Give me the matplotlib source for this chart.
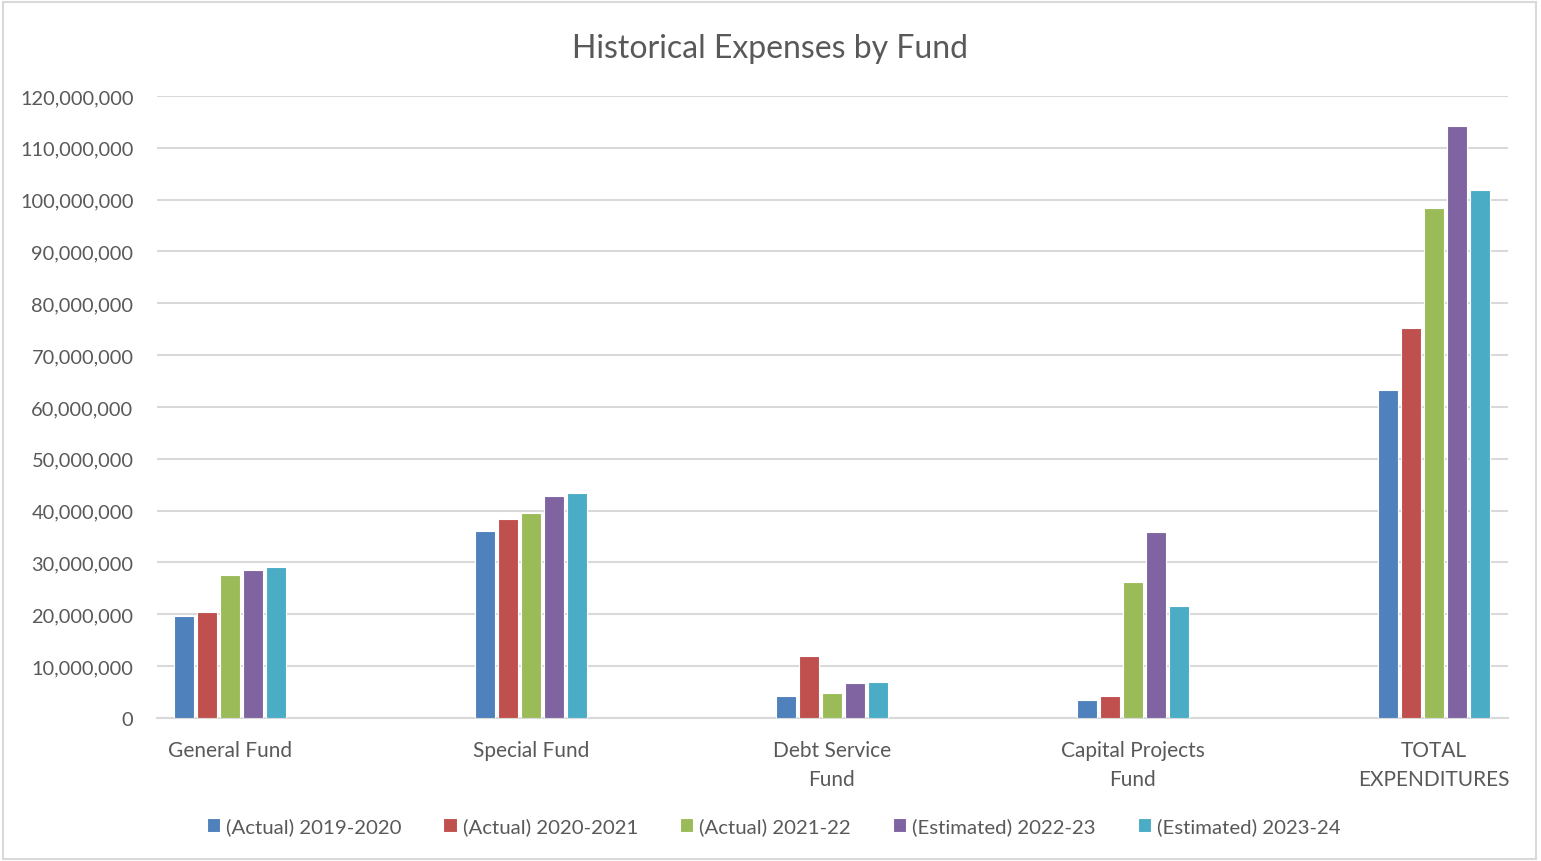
import matplotlib
matplotlib.use("Agg")
import matplotlib.pyplot as plt
from matplotlib.ticker import FuncFormatter
import numpy as np

# values in millions
funds = ["General Fund", "Special Fund", "Debt Service\nFund", "Capital Projects\nFund", "TOTAL\nEXPENDITURES"]
series_names = ["(Actual) 2019-2020", "(Actual) 2020-2021", "(Actual) 2021-22",
                "(Estimated) 2022-23", "(Estimated) 2023-24"]
actual_2019_20 = [19.65, 36.1, 4.3, 3.4, 63.3]
actual_2020_21 = [20.5, 38.4, 11.9, 4.3, 75.3]
actual_2021_22 = [27.6, 39.6, 4.9, 26.2, 98.4]
estimated_2022_23 = [28.55, 42.9, 6.7, 35.8, 114.2]
estimated_2023_24 = [29.2, 43.5, 7.0, 21.7, 101.9]
colors = ["#4F81BD", "#C0504D", "#9BBB59", "#8064A2", "#4BACC6"]

TEXT = "#595959"
GRID = "#D9D9D9"
plt.rcParams["font.family"] = ["Lato", "DejaVu Sans"]

fig = plt.figure(figsize=(15.41, 8.62), dpi=100)
ax = fig.add_axes([0.1019, 0.1659, 0.8767, 0.7216])

x = np.arange(len(funds))
step = 0.0764
width = 0.064
all_series = [actual_2019_20, actual_2020_21, actual_2021_22, estimated_2022_23, estimated_2023_24]
for i, (vals, name, c) in enumerate(zip(all_series, series_names, colors)):
    ax.bar(x + (i - 2) * step, np.array(vals) * 1e6, width=width, color=c,
           edgecolor="white", linewidth=0.8, label=name, zorder=3)

ax.set_xlim(-0.2425, 4.246)
ax.set_ylim(0, 120e6)
ax.set_yticks(np.arange(0, 120e6 + 1, 10e6))
ax.yaxis.set_major_formatter(FuncFormatter(lambda v, p: f"{v:,.0f}"))
ax.grid(axis="y", color=GRID, linewidth=1.5, zorder=0)
ax.set_axisbelow(True)
for s in ["top", "right", "left"]:
    ax.spines[s].set_visible(False)
ax.spines["bottom"].set_color(GRID)
ax.spines["bottom"].set_linewidth(1.5)
ax.set_xticks(x)
ax.set_xticklabels(funds, linespacing=1.55)
ax.tick_params(axis="both", length=0, colors=TEXT)
ax.tick_params(axis="y", pad=17, labelsize=14.4)
ax.tick_params(axis="x", pad=16, labelsize=15)

fig.suptitle("Historical Expenses by Fund", x=0.5, y=0.960, fontsize=23, color=TEXT)

fig.legend(loc="center", bbox_to_anchor=(0.502, 0.040), ncol=5, frameon=False,
           fontsize=14.7, labelcolor=TEXT, handlelength=0.65, handleheight=0.65,
           handletextpad=0.3, columnspacing=2.05)

fig.patches.append(plt.Rectangle((0.002, 0.002), 0.995, 0.995, transform=fig.transFigure,
                                 fill=False, edgecolor=GRID, linewidth=1.5))

fig.savefig("out.png", dpi=100, facecolor="white")
